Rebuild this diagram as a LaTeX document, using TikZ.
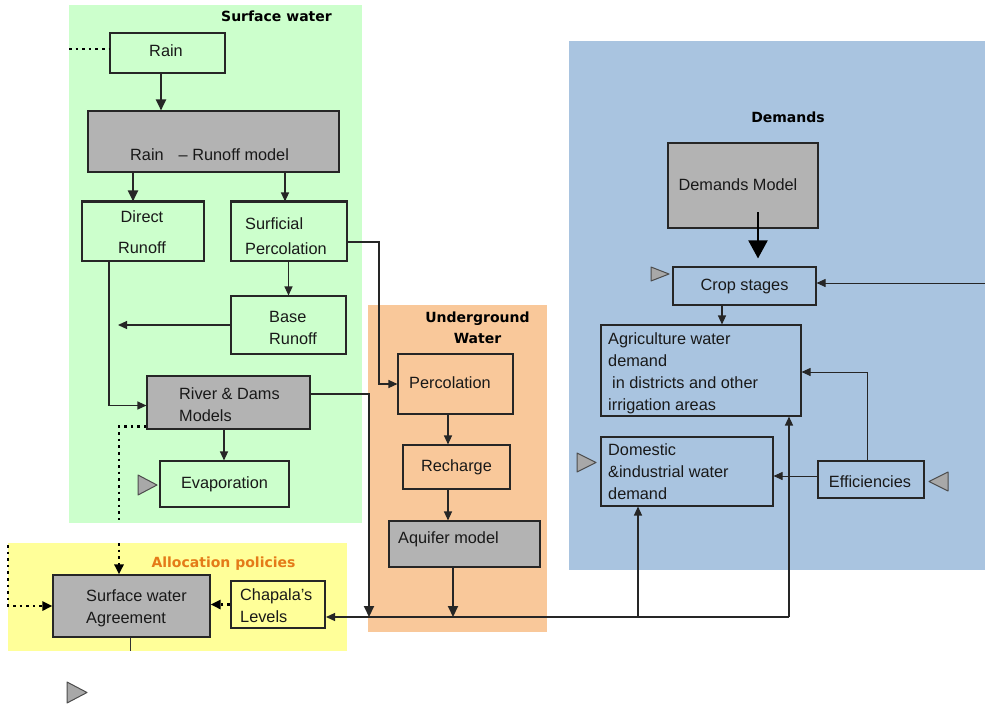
\documentclass[tikz,border=0pt]{standalone}
\usepackage{fontspec}
\setmainfont{Liberation Sans}
\newfontfamily\ttl{DejaVu Sans}
\usetikzlibrary{arrows.meta,calc}
\definecolor{sgreen}{HTML}{CCFFCC}
\definecolor{sorange}{HTML}{F9C89A}
\definecolor{sblue}{HTML}{A9C4E0}
\definecolor{syellow}{HTML}{FFFF99}
\definecolor{boxgray}{HTML}{B3B3B3}
\definecolor{trigray}{HTML}{A8A8A8}
\definecolor{ttlorange}{HTML}{E47A18}
\newcommand\fsz[2]{\fontsize{#1}{#2}\selectfont}
\begin{document}
\begin{tikzpicture}[x=1pt,y=-1pt,
 box/.style={draw=black!85, line width=1.1pt, inner sep=0pt},
 gbox/.style={box, fill=boxgray},
 txt/.style={font=\fsz{16.3}{22}, inner sep=0pt, align=left, text=black!90},
 ttlst/.style={font=\ttl\bfseries\fsz{14}{21}, inner sep=0pt, align=center},
 conn/.style={draw=black!85, line width=1.2pt, -{Triangle[length=9pt,width=8pt]}},
 thickconn/.style={conn, line width=2pt, -{Triangle[length=11pt,width=10pt]}},
 thinconn/.style={conn, line width=0.9pt},
 dotline/.style={line width=2.6pt, dash pattern=on 2.6pt off 4pt, draw=black},
 dotconn/.style={dotline, -{Triangle[length=10pt,width=9pt]}},
 tri/.style={fill=trigray, draw=black!70, line width=1pt, line join=round},
]
\useasboundingbox (0,0) rectangle (985,704);
\fill[white] (0,0) rectangle (985,704);
% backgrounds
\fill[sgreen] (69,5) rectangle (362,523);
\fill[sorange] (368,305) rectangle (547,632);
\fill[sblue] (569,41) rectangle (985,570);
\fill[syellow] (8,543) rectangle (347,651);
% titles
\node[ttlst] (t1) at (276.5,16.5) {Surface water};
\node[ttlst] (t2) at (477.5,327.5) {Underground\\Water};
\node[ttlst] (t3) at (788,117) {Demands};
\node[ttlst, text=ttlorange, anchor=base] (t4) at (223.5,567) {Allocation policies};
% surface water boxes
\node[box,minimum width=115pt,minimum height=40pt] (rain) at (167.5,53) {};
\node[txt] (raint) at (166,50.5) {Rain};
\node[gbox,minimum width=251pt,minimum height=61pt] (rrm) at (213.5,141.5) {};
\node[txt,anchor=west] (rrmt) at (130,155) {Rain\hspace{15pt}– Runoff model};
\node[box,minimum width=122pt,minimum height=59pt] (direct) at (143,231.5) {};
\draw[line width=2.4pt,black!85] (direct.north west) -- (direct.north east);
\node[txt,align=center,font=\fsz{16.3}{31}] (directt) at (142,232.5) {Direct\\Runoff};
\node[box,minimum width=116pt,minimum height=59pt] (surf) at (289,231.5) {};
\draw[line width=2.4pt,black!85] (surf.north west) -- (surf.north east);
\node[txt,anchor=west,font=\fsz{16.3}{25}] (surft) at (245,236) {Surficial\\Percolation};
\node[box,minimum width=115pt,minimum height=58pt] (base) at (288.5,325) {};
\node[txt,anchor=west] (baset) at (269,328) {Base\\Runoff};
\node[gbox,minimum width=163pt,minimum height=53pt] (river) at (228.5,402.5) {};
\node[txt,anchor=west] (rivert) at (179,405) {River \& Dams\\Models};
\node[box,txt,minimum width=129pt,minimum height=46pt] (evap) at (224.5,484) {Evaporation};
% underground
\node[box,minimum width=115pt,minimum height=60pt] (perc) at (455.5,384) {};
\node[txt,anchor=west] (perct) at (409,383) {Percolation};
\node[box,txt,minimum width=107pt,minimum height=44pt] (rech) at (456.5,467) {Recharge};
\node[gbox,minimum width=151pt,minimum height=46pt] (aq) at (464.5,544) {};
\node[txt,anchor=west] (aqt) at (398,539) {Aquifer model};
% allocation
\node[gbox,minimum width=157pt,minimum height=62pt] (agree) at (131.5,606) {};
\node[txt,anchor=west] (agreet) at (86,608) {Surface water\\Agreement};
\node[box,line width=2pt,minimum width=94pt,minimum height=47pt] (chap) at (278,604.5) {};
\node[txt,anchor=west] (chapt) at (240,606) {Chapala's\\Levels};
% demands
\node[gbox,minimum width=150pt,minimum height=85pt] (dm) at (743,185.5) {};
\node[txt] (dmt) at (738,185) {Demands Model};
\node[box,txt,minimum width=143pt,minimum height=38pt] (crop) at (744.5,286) {Crop stages};
\node[box,minimum width=200pt,minimum height=91pt] (agr) at (701,370.5) {};
\node[txt,anchor=west] (agrt) at (608,373) {Agriculture water\\demand\\\hspace*{4pt}in districts and other\\irrigation areas};
\node[box,minimum width=172pt,minimum height=69pt] (dom) at (687,471.5) {};
\node[txt,anchor=west] (domt) at (608,472) {Domestic\\\&industrial water\\demand};
\node[box,minimum width=106pt,minimum height=37pt] (eff) at (871,479.5) {};
\node[txt] (efft) at (870,482) {Efficiencies};
% triangles
\draw[tri] (138,475) -- (157,485) -- (138,495) -- cycle;
\draw[tri] (651,267) -- (669,274) -- (651,281) -- cycle;
\draw[tri] (577,453) -- (596,462.5) -- (577,472) -- cycle;
\draw[tri] (948,472) -- (929,481.5) -- (948,491) -- cycle;
\draw[tri] (67,682) -- (87,692.5) -- (67,703) -- cycle;
% helper coordinates
\coordinate (x161) at (161,0);
\coordinate (x133) at (133,0);
\coordinate (x285) at (285,0);
\coordinate (x109) at (109,0);
\coordinate (x224) at (224,0);
\coordinate (x448) at (448,0);
\coordinate (x453) at (453,0);
\coordinate (x722) at (722,0);
\coordinate (x379) at (379,0);
\coordinate (x867) at (867,0);
\coordinate (dmarr) at (758,212);
\coordinate (bl) at (118,325);
\coordinate (j1) at (369,617);
\coordinate (d1) at (119,520);
\coordinate (d2) at (119,543);
\coordinate (d3) at (8,545);
\coordinate (br) at (789,617);
\coordinate (v1) at (638,617);
\coordinate (re) at (985,283);
\coordinate (ab) at (130,651);
\coordinate (dl) at (69,49);
% connectors
\draw[dotline] (dl) -- (rain.west |- dl);
\draw[thickconn] (rain.south -| x161) -- (rrm.north -| x161);
\draw[thickconn] (rrm.south -| x133) -- (direct.north -| x133);
\draw[conn] (rrm.south -| x285) -- (surf.north -| x285);
\draw[conn] ($(surf.east)+(0,10.5)$) -| (x379 |- perc.west) -- (perc.west);
\draw[conn] (surf.south -| base.north) -- (base.north);
\draw[conn] (base.west) -- (bl);
\draw[conn] (direct.south -| x109) |- ($(river.west)+(0,3)$);
\draw[conn] (river.south -| x224) -- (evap.north -| x224);
\draw[thickconn] ($(river.east)+(0,-8.5)$) -| (j1);
\draw[dotline] ($(river.south west)+(0,-3)$) -| (d1);
\draw[dotconn] (d2) -- (d2 |- agree.north);
\draw[dotconn] (d3) |- (agree.west);
\draw[dotconn] (chap.west) -- (chap.west -| agree.east);
\draw[conn] (br) -- (br -| chap.east);
\draw[thickconn] (aq.south -| x453) -- (x453 |- br);
\draw[conn] (v1) -- (v1 |- dom.south);
\draw[conn] (br) -- (br |- agr.south);
\draw[conn] (perc.south -| x448) -- (rech.north -| x448);
\draw[conn] (rech.south -| x448) -- (aq.north -| x448);
\draw[line width=2pt,black,-{Triangle[length=18pt,width=19pt]},shorten >=8pt] (dmarr) -- (dmarr |- crop.north);
\draw[thinconn] (re) -- (re -| crop.east);
\draw[conn] (crop.south -| x722) -- (agr.north -| x722);
\draw[thinconn] ($(eff.west)+(0,-3.5)$) -- ($(eff.west -| dom.east)+(0,-3.5)$);
\draw[thinconn] (eff.north -| x867) |- ($(agr.east)+(0,1.5)$);
\draw[black!80,line width=0.8pt] (agree.south -| ab) -- (ab);
\end{tikzpicture}
\end{document}
